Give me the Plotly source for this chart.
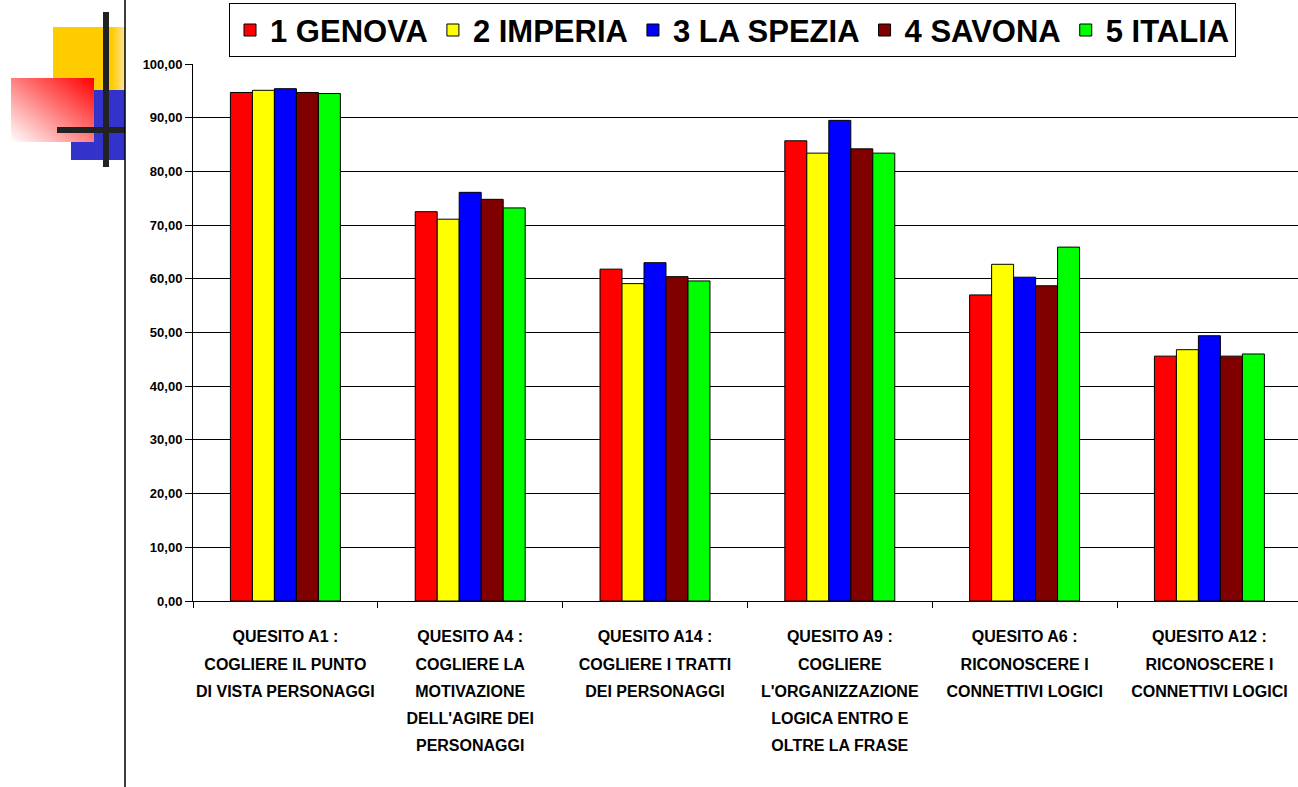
import base64
import plotly.graph_objects as go

category_lines = [
    ["QUESITO A1 :", "COGLIERE IL PUNTO", "DI VISTA PERSONAGGI"],
    ["QUESITO A4 :", "COGLIERE LA", "MOTIVAZIONE", "DELL'AGIRE DEI", "PERSONAGGI"],
    ["QUESITO A14 :", "COGLIERE I TRATTI", "DEI PERSONAGGI"],
    ["QUESITO A9 :", "COGLIERE", "L'ORGANIZZAZIONE", "LOGICA ENTRO E", "OLTRE LA FRASE"],
    ["QUESITO A6 :", "RICONOSCERE I", "CONNETTIVI LOGICI"],
    ["QUESITO A12 :", "RICONOSCERE I", "CONNETTIVI LOGICI"],
]
categories = [" ".join(lines) for lines in category_lines]

series_names = ["1 GENOVA", "2 IMPERIA", "3 LA SPEZIA", "4 SAVONA", "5 ITALIA"]
genova = [94.7, 72.5, 61.8, 85.7, 57.0, 45.6]
imperia = [95.1, 71.1, 59.1, 83.4, 62.7, 46.8]
la_spezia = [95.4, 76.1, 63.0, 89.5, 60.3, 49.4]
savona = [94.7, 74.8, 60.4, 84.2, 58.7, 45.6]
italia = [94.5, 73.2, 59.6, 83.4, 65.9, 46.0]
series_values = [genova, imperia, la_spezia, savona, italia]
series_colors = ["#FF0000", "#FFFF00", "#0000FF", "#800000", "#00FF00"]

y_ticks = [0, 10, 20, 30, 40, 50, 60, 70, 80, 90, 100]

FONT = "Liberation Sans, Arial, sans-serif"

W, H = 1298, 787
ML, MR, MT, MB = 193, 0, 64, 186
PW = W - ML - MR
PH = H - MT - MB


def px(xp):
    return (xp - ML) / PW


def py(yp):
    return (H - MB - yp) / PH


def small(text, size):
    return "<span style='font-size:%dpx'>%s</span>" % (size, text)


tick_text = ["<br>".join(small(l, 16) for l in lines) for lines in category_lines]

fig = go.Figure()
for name, vals, col in zip(series_names, series_values, series_colors):
    fig.add_trace(go.Bar(
        name=small(name, 31), x=categories, y=vals,
        marker=dict(color=col, line=dict(color="#000000", width=1)),
    ))

logo_svg = """<svg xmlns='http://www.w3.org/2000/svg' width='130' height='170' viewBox='0 0 130 170'>
<defs>
<linearGradient id='yg' x1='0' y1='0' x2='1' y2='0'>
<stop offset='0' stop-color='#FFCC00'/><stop offset='0.82' stop-color='#FFCC00'/><stop offset='1' stop-color='#FFE39A'/>
</linearGradient>
<linearGradient id='rg' x1='1' y1='0' x2='0' y2='1'>
<stop offset='0' stop-color='#FF0000'/><stop offset='1' stop-color='#FFFFFF' stop-opacity='1'/>
</linearGradient>
</defs>
<rect x='53' y='27' width='72' height='63' fill='url(#yg)'/>
<rect x='71' y='90' width='54' height='70' fill='#3333CC'/>
<rect x='11' y='78' width='83' height='64' fill='url(#rg)'/>
<rect x='103' y='12' width='6' height='155' fill='#222222'/>
<rect x='57' y='127' width='68' height='6' fill='#222222'/>
</svg>"""
logo_src = "data:image/svg+xml;base64," + base64.b64encode(logo_svg.encode()).decode()

fig.add_layout_image(dict(
    source=logo_src, xref="paper", yref="paper",
    x=px(0), y=py(0), sizex=130 / PW, sizey=170 / PH,
    xanchor="left", yanchor="top", sizing="stretch", layer="above",
))

fig.add_shape(type="line", xref="paper", yref="paper",
              x0=px(125), x1=px(125), y0=py(H), y1=py(0),
              line=dict(color="#000000", width=1.5))

fig.update_layout(
    width=W, height=H,
    margin=dict(l=ML, r=MR, t=MT, b=MB, pad=0),
    paper_bgcolor="white", plot_bgcolor="white",
    barmode="group", bargap=0.405, bargroupgap=0,
    separators=",.",
    font=dict(family=FONT, color="#000000", weight="bold"),
    showlegend=True,
    legend=dict(
        orientation="h", x=px(229), y=py(3), xanchor="left", yanchor="top",
        bordercolor="#000000", borderwidth=1, bgcolor="white",
        font=dict(family=FONT, size=30, color="#000000", weight="bold"),
        itemwidth=30, tracegroupgap=0,
    ),
    xaxis=dict(
        type="category", range=[-0.5, -0.5 + PW / 184.8],
        tickvals=categories, ticktext=tick_text,
        tickson="boundaries", ticks="outside", ticklen=6, tickcolor="#000000",
        showline=True, linecolor="#000000", linewidth=1,
        showgrid=False, tickangle=0, ticklabelstandoff=15,
        tickfont=dict(family=FONT, size=21, color="#000000", weight="bold"),
    ),
    yaxis=dict(
        range=[0, 100], tickvals=y_ticks, tickformat=".2f",
        ticks="outside", ticklen=7, tickcolor="#000000",
        showline=True, linecolor="#000000", linewidth=1,
        showgrid=True, gridcolor="#000000", gridwidth=1,
        zeroline=False,
        tickfont=dict(family=FONT, size=13, color="#000000", weight="bold"),
    ),
)

fig.write_html(
    "out.html",
    config={"displayModeBar": False},
    post_script="document.body.style.margin='0';document.body.style.overflow='hidden';",
)
